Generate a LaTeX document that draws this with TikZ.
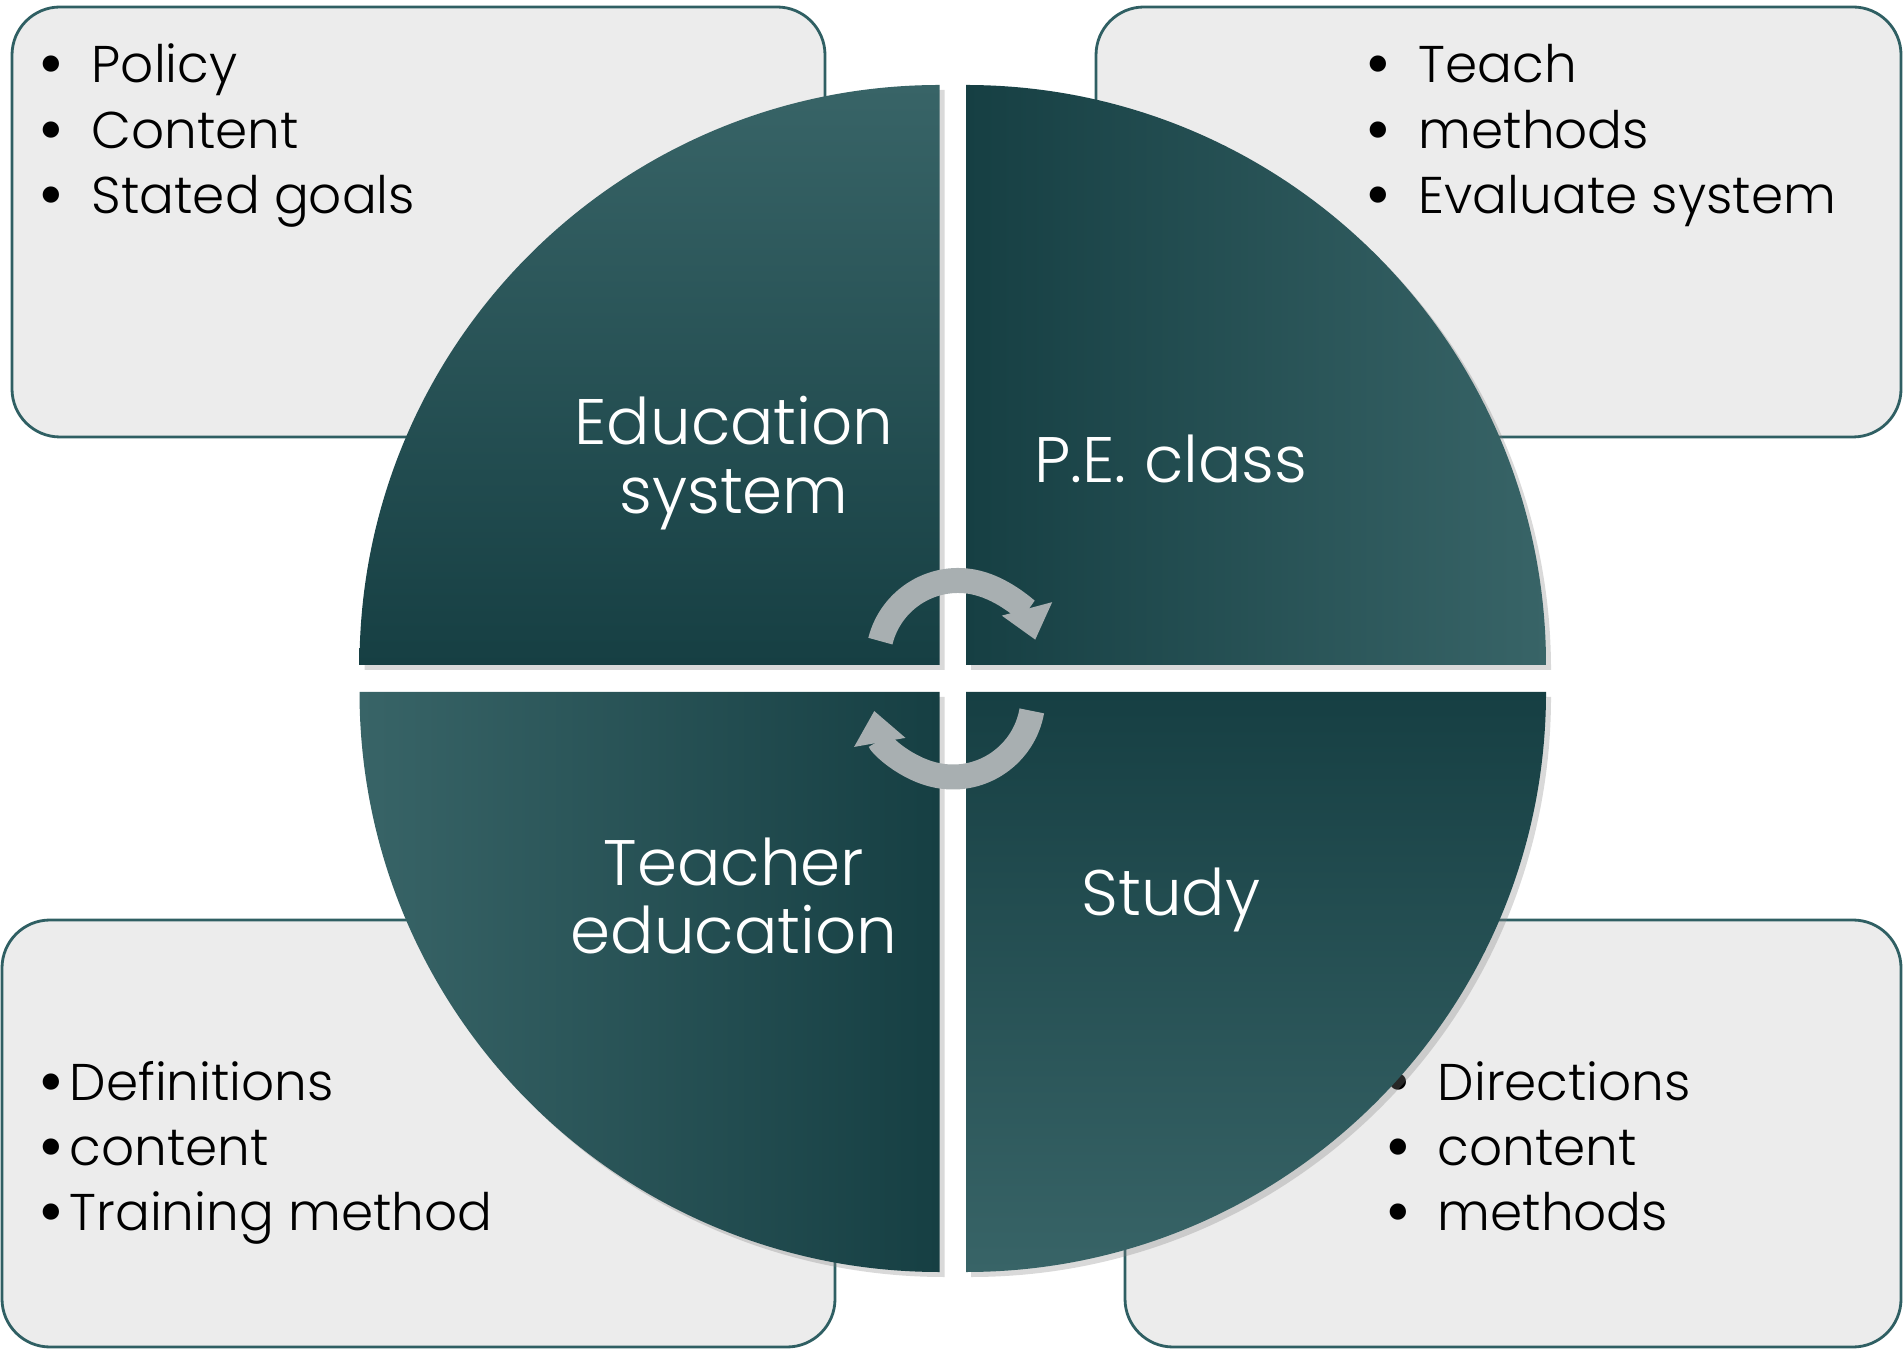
\documentclass[tikz,border=0pt]{standalone}
\usepackage{fontspec}
\IfFontExistsTF{Poppins Light}{\setmainfont{Poppins Light}}{\setmainfont{Poppins}}
\usepackage{tikz}
\usetikzlibrary{arrows.meta,shadows}
\definecolor{tealdark}{HTML}{163F43}
\definecolor{teallight}{HTML}{386467}
\definecolor{boxfill}{HTML}{ECECEC}
\definecolor{boxline}{HTML}{2F5F63}
\definecolor{arrowgrey}{HTML}{A8AFB1}
\newcommand{\bl}{\makebox[0.2cm][c]{\raisebox{-0.05cm}{\fontsize{20}{20}\selectfont\textbullet}}}

\begin{document}
\begin{tikzpicture}[
  infobox/.style = {draw=boxline, line width=0.8pt, fill=boxfill, rounded corners=0.48cm},
  quarter/.style = {drop shadow={opacity=0.3, shadow xshift=0.05cm, shadow yshift=-0.05cm}},
  quadtext/.style = {text=white, align=center, font=\fontsize{18.3}{19.6}\selectfont},
  bullets/.style = {anchor=base west, inner sep=0pt, font=\fontsize{14.7}{18.6}\selectfont},
  turn/.style = {line width=0.25cm, draw=arrowgrey, -{Triangle[width=0.5cm,length=0.32cm]}}]
\useasboundingbox (0,0) rectangle (19.03,13.48);

\draw[infobox] (0.12,9.11) rectangle (8.25,13.41);
\draw[infobox] (10.96,9.11) rectangle (19.01,13.41);
\draw[infobox] (0.02,0.01) rectangle (8.35,4.28);
\draw[infobox] (11.25,0.01) rectangle (19.01,4.28);

\node[bullets] (goals) at (0.41,12.65)
  {\begin{tabular}[t]{@{}l@{\hspace{0.30cm}}l@{}}\bl & Policy\\ \bl & Content\\ \bl & Stated goals\end{tabular}};
\node[bullets] (teach) at (13.68,12.65)
  {\begin{tabular}[t]{@{}l@{\hspace{0.30cm}}l@{}}\bl & Teach\\ \bl & methods\\ \bl & Evaluate system\end{tabular}};
\node[bullets] (train) at (0.41,2.48)
  {\begin{tabular}[t]{@{}l@{\hspace{0.08cm}}l@{}}\bl & Definitions\\ \bl & content\\ \bl & Training method\end{tabular}};
\node[bullets] (direct) at (13.88,2.48)
  {\begin{tabular}[t]{@{}l@{\hspace{0.29cm}}l@{}}\bl & Directions\\ \bl & content\\ \bl & methods\end{tabular}};

\path[quarter, top color=teallight, bottom color=tealdark]
  (9.395,6.83) -- ++(-5.8,0) arc[start angle=180, end angle=90, radius=5.8] -- cycle;
\path[quarter, left color=tealdark, right color=teallight]
  (9.66,6.83) -- ++(0,5.8) arc[start angle=90, end angle=0, radius=5.8] -- cycle;
\path[quarter, left color=teallight, right color=tealdark]
  (9.395,6.56) -- ++(0,-5.8) arc[start angle=270, end angle=180, radius=5.8] -- cycle;
\path[quarter, top color=tealdark, bottom color=teallight]
  (9.66,6.56) -- ++(5.8,0) arc[start angle=0, end angle=-90, radius=5.8] -- cycle;

\node[quadtext] (edu) at (7.34,8.85) {Education\\system};
\node[quadtext] (pe) at (11.71,8.89) {P.E. class};
\node[quadtext] (teacher) at (7.34,4.52) {Teacher\\education};
\node[quadtext] (study) at (11.71,4.48) {Study};

\draw[turn] (9.58,6.875) ++(166:0.8) arc[start angle=166, end angle=15, radius=0.8];
\draw[turn] (9.53,6.51) ++(-10:0.8) arc[start angle=-10, end angle=-170, radius=0.8];
\end{tikzpicture}
\end{document}
